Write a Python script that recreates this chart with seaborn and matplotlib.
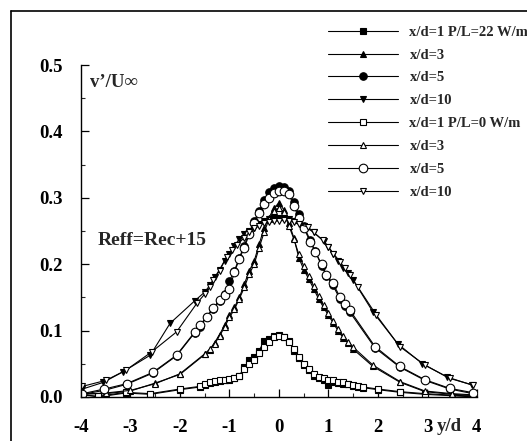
import numpy as np
import pandas as pd
import matplotlib
matplotlib.use("Agg")
import matplotlib.pyplot as plt
from matplotlib.lines import Line2D
import seaborn as sns

# ---------------- data ----------------
x_sq = [-3.97, -3.65, -3.1, -2.6, -2.0, -1.6, -1.5, -1.4, -1.3, -1.2, -1.1, -1.0, -0.9, -0.8, -0.7,
        -0.6, -0.5, -0.4, -0.3, -0.2, -0.1, 0.0, 0.1, 0.2, 0.3, 0.4, 0.5, 0.6, 0.7, 0.8, 0.9,
        1.0, 1.1, 1.2, 1.3, 1.4, 1.5, 1.6, 1.7, 2.0, 2.45, 2.95, 3.97]
sq_open = [0.003, 0.001, 0.007, 0.005, 0.012, 0.016, 0.019, 0.022, 0.024, 0.025, 0.026, 0.027, 0.029,
           0.031, 0.042, 0.05, 0.055, 0.066, 0.076, 0.083, 0.09, 0.092, 0.09, 0.083, 0.072, 0.06,
           0.05, 0.042, 0.034, 0.03, 0.028, 0.026, 0.025, 0.023, 0.022, 0.02, 0.018, 0.016, 0.015,
           0.012, 0.008, 0.005, 0.001]
sq_fill = [0.004, 0.000, 0.006, 0.004, 0.011, 0.015, 0.018, 0.021, 0.023, 0.024, 0.025, 0.026, 0.028,
           0.032, 0.045, 0.055, 0.06, 0.07, 0.084, 0.088, 0.092, 0.094, 0.091, 0.085, 0.07, 0.058,
           0.048, 0.04, 0.032, 0.028, 0.025, 0.018, 0.022, 0.021, 0.02, 0.019, 0.017, 0.015, 0.014,
           0.011, 0.007, 0.004, 0.000]

x_tri = [-3.97, -3.5, -3.0, -2.5, -2.0, -1.5, -1.4, -1.3, -1.2, -1.1, -1.0, -0.9, -0.8, -0.7, -0.6,
         -0.5, -0.4, -0.3, -0.2, -0.1, 0.0, 0.1, 0.2, 0.3, 0.4, 0.5, 0.6, 0.7, 0.8, 0.9, 1.0, 1.1,
         1.2, 1.3, 1.4, 1.5, 1.9, 2.45, 2.95, 3.5, 3.97]
tri_open = [0.004, 0.006, 0.01, 0.02, 0.035, 0.065, 0.072, 0.08, 0.092, 0.105, 0.12, 0.132, 0.148,
            0.165, 0.185, 0.2, 0.225, 0.248, 0.268, 0.28, 0.285, 0.278, 0.258, 0.238, 0.215, 0.197,
            0.182, 0.167, 0.152, 0.138, 0.126, 0.114, 0.102, 0.092, 0.083, 0.075, 0.048, 0.023,
            0.009, 0.005, 0.003]
tri_fill = [0.005, 0.005, 0.009, 0.021, 0.034, 0.064, 0.071, 0.082, 0.094, 0.108, 0.123, 0.135, 0.15,
            0.17, 0.19, 0.205, 0.23, 0.255, 0.27, 0.285, 0.292, 0.282, 0.262, 0.24, 0.21, 0.192,
            0.178, 0.163, 0.148, 0.135, 0.123, 0.111, 0.099, 0.089, 0.081, 0.072, 0.046, 0.022,
            0.008, 0.004, 0.002]

x_cir = [-3.97, -3.53, -3.08, -2.55, -2.07, -1.7, -1.6, -1.46, -1.33, -1.2, -1.1, -1.0, -0.9, -0.8,
         -0.7, -0.6, -0.5, -0.4, -0.3, -0.2, -0.1, 0.0, 0.1, 0.2, 0.3, 0.4, 0.5, 0.63, 0.73, 0.86,
         0.96, 1.09, 1.23, 1.33, 1.43, 1.94, 2.44, 2.95, 3.45, 3.92]
cir_open = [0.005, 0.012, 0.02, 0.037, 0.063, 0.098, 0.108, 0.121, 0.134, 0.146, 0.153, 0.163, 0.188,
            0.208, 0.225, 0.245, 0.262, 0.277, 0.29, 0.3, 0.307, 0.31, 0.31, 0.306, 0.288, 0.27,
            0.255, 0.234, 0.219, 0.2, 0.184, 0.171, 0.151, 0.14, 0.131, 0.076, 0.046, 0.026,
            0.013, 0.0065]
cir_fill = [0.004, 0.010, 0.019, 0.036, 0.062, 0.097, 0.106, 0.12, 0.133, 0.145, 0.155, 0.175, 0.19,
            0.21, 0.228, 0.248, 0.265, 0.28, 0.296, 0.308, 0.315, 0.318, 0.316, 0.31, 0.293, 0.275,
            0.258, 0.236, 0.22, 0.198, 0.182, 0.168, 0.148, 0.137, 0.128, 0.074, 0.045, 0.025,
            0.012, 0.005]

x_inv = [-3.97, -3.5, -3.1, -2.57, -2.07, -1.66, -1.5, -1.4, -1.33, -1.2, -1.06, -0.95, -0.85, -0.7,
         -0.6, -0.5, -0.4, -0.3, -0.2, -0.1, 0.0, 0.1, 0.2, 0.3, 0.4, 0.59, 0.7, 0.89, 1.0, 1.1,
         1.23, 1.33, 1.43, 1.6, 1.97, 2.44, 2.95, 3.45, 3.92]
inv_open = [0.016, 0.025, 0.04, 0.068, 0.098, 0.141, 0.155, 0.165, 0.176, 0.19, 0.211, 0.222, 0.229,
            0.24, 0.248, 0.254, 0.258, 0.262, 0.264, 0.265, 0.265, 0.266, 0.265, 0.263, 0.26,
            0.256, 0.248, 0.236, 0.226, 0.216, 0.204, 0.194, 0.184, 0.165, 0.123, 0.076, 0.048,
            0.028, 0.018]
x_inv_f = [-3.97, -3.55, -3.15, -2.6, -2.2, -1.7, -1.5, -1.4, -1.3, -1.2, -1.1, -1.0, -0.9, -0.8,
           -0.7, -0.6, -0.5, -0.4, -0.3, -0.2, -0.1, 0.0, 0.1, 0.2, 0.3, 0.5, 0.7, 0.9, 1.0, 1.1,
           1.2, 1.3, 1.4, 1.5, 1.9, 2.4, 2.9, 3.4, 3.9]
inv_fill = [0.012, 0.022, 0.038, 0.063, 0.111, 0.145, 0.158, 0.168, 0.18, 0.192, 0.205, 0.215, 0.228,
            0.238, 0.245, 0.25, 0.255, 0.26, 0.265, 0.268, 0.27, 0.27, 0.27, 0.268, 0.265, 0.258,
            0.248, 0.235, 0.226, 0.215, 0.205, 0.195, 0.186, 0.176, 0.128, 0.08, 0.05, 0.03, 0.018]

labels = ["x/d=1 P/L=22 W/m", "x/d=3", "x/d=5", "x/d=10",
          "x/d=1 P/L=0 W/m", "x/d=3", "x/d=5", "x/d=10"]
x_ticks = [-4, -3, -2, -1, 0, 1, 2, 3, 4]
x_ticklabels = ["-4", "-3", "-2", "-1", "0", "1", "2", "3", "4"]
y_ticks = [0.0, 0.1, 0.2, 0.3, 0.4, 0.5]
y_ticklabels = ["0.0", "0.1", "0.2", "0.3", "0.4", "0.5"]

# ---------------- style ----------------
sns.set_theme(style="ticks")
plt.rcParams['font.family'] = ['Liberation Serif', 'DejaVu Serif']
plt.rcParams['font.weight'] = 'bold'

fig = plt.figure(figsize=(5.27, 4.41), dpi=100)
ax = fig.add_axes([0.1537, 0.0998, 0.7513, 0.7528])

series = [
    (x_sq, sq_fill, 's', 'black', 3.8),
    (x_tri, tri_fill, '^', 'black', 4.4),
    (x_cir, cir_fill, 'o', 'black', 5.4),
    (x_inv_f, inv_fill, 'v', 'black', 4.4),
    (x_sq, sq_open, 's', 'white', 4.4),
    (x_tri, tri_open, '^', 'white', 4.8),
    (x_cir, cir_open, 'o', 'white', 6.2),
    (x_inv, inv_open, 'v', 'white', 4.8),
]

handles = []
for (xs, ys, mk, fc, ms), lab in zip(series, labels):
    df = pd.DataFrame({"x": xs, "y": ys})
    sns.lineplot(data=df, x="x", y="y", ax=ax, sort=False, estimator=None,
                 color='black', linewidth=0.8, marker=mk, markersize=ms,
                 markerfacecolor=fc, markeredgecolor='black', markeredgewidth=0.8,
                 legend=False)
    handles.append(Line2D([], [], color='black', linewidth=0.8, marker=mk, markersize=ms,
                          markerfacecolor=fc, markeredgecolor='black', markeredgewidth=0.8))

ax.set_xlim(-4, 4)
ax.set_ylim(0, 0.5)
ax.set_xlabel("")
ax.set_ylabel("")
ax.set_xticks(x_ticks)
ax.set_xticklabels(x_ticklabels)
ax.set_yticks(y_ticks)
ax.set_yticklabels(y_ticklabels)
ax.set_xticks([-3.5, -2.5, -1.5, -0.5, 0.5, 1.5, 2.5, 3.5], minor=True)
ax.set_yticks([0.05, 0.15, 0.25, 0.35, 0.45], minor=True)
ax.tick_params(axis='both', which='major', direction='in', length=6, width=0.9,
               labelsize=13.5, colors='black')
ax.tick_params(axis='both', which='minor', direction='in', length=3, width=0.8)
ax.tick_params(axis='x', which='major', pad=16)
ax.tick_params(axis='y', which='major', pad=13)
for lbl in ax.get_xticklabels() + ax.get_yticklabels():
    lbl.set_fontweight('bold')
sns.despine(ax=ax)
for sp in ['left', 'bottom']:
    ax.spines[sp].set_linewidth(1.0)
    ax.spines[sp].set_color('black')
ax.set_facecolor('white')

ax.text(-3.82, 0.474, "v\u2019/U\u221e", fontsize=13.5, fontweight='bold', va='center', ha='left')
ax.text(-3.67, 0.236, "Reff=Rec+15", fontsize=14, fontweight='bold', va='center', ha='left')
ax.text(3.45, -0.045, "y/d", fontsize=13.5, fontweight='bold', va='center', ha='center')

leg = fig.legend(handles, labels, loc='upper left', bbox_to_anchor=(0.622, 0.942),
                 frameon=False, handlelength=4.8, handletextpad=0.8, labelspacing=0.66,
                 prop={'family': 'Liberation Serif', 'weight': 'bold', 'size': 10.5},
                 borderaxespad=0, borderpad=0)

# outer frame lines (top and left)
fig.add_artist(Line2D([11/527, 1.0], [1 - 11/441, 1 - 11/441], transform=fig.transFigure,
                      color='black', linewidth=1.2))
fig.add_artist(Line2D([11/527, 11/527], [0.0, 1 - 11/441], transform=fig.transFigure,
                      color='black', linewidth=1.2))

fig.savefig("out.png", dpi=100, facecolor='white')
